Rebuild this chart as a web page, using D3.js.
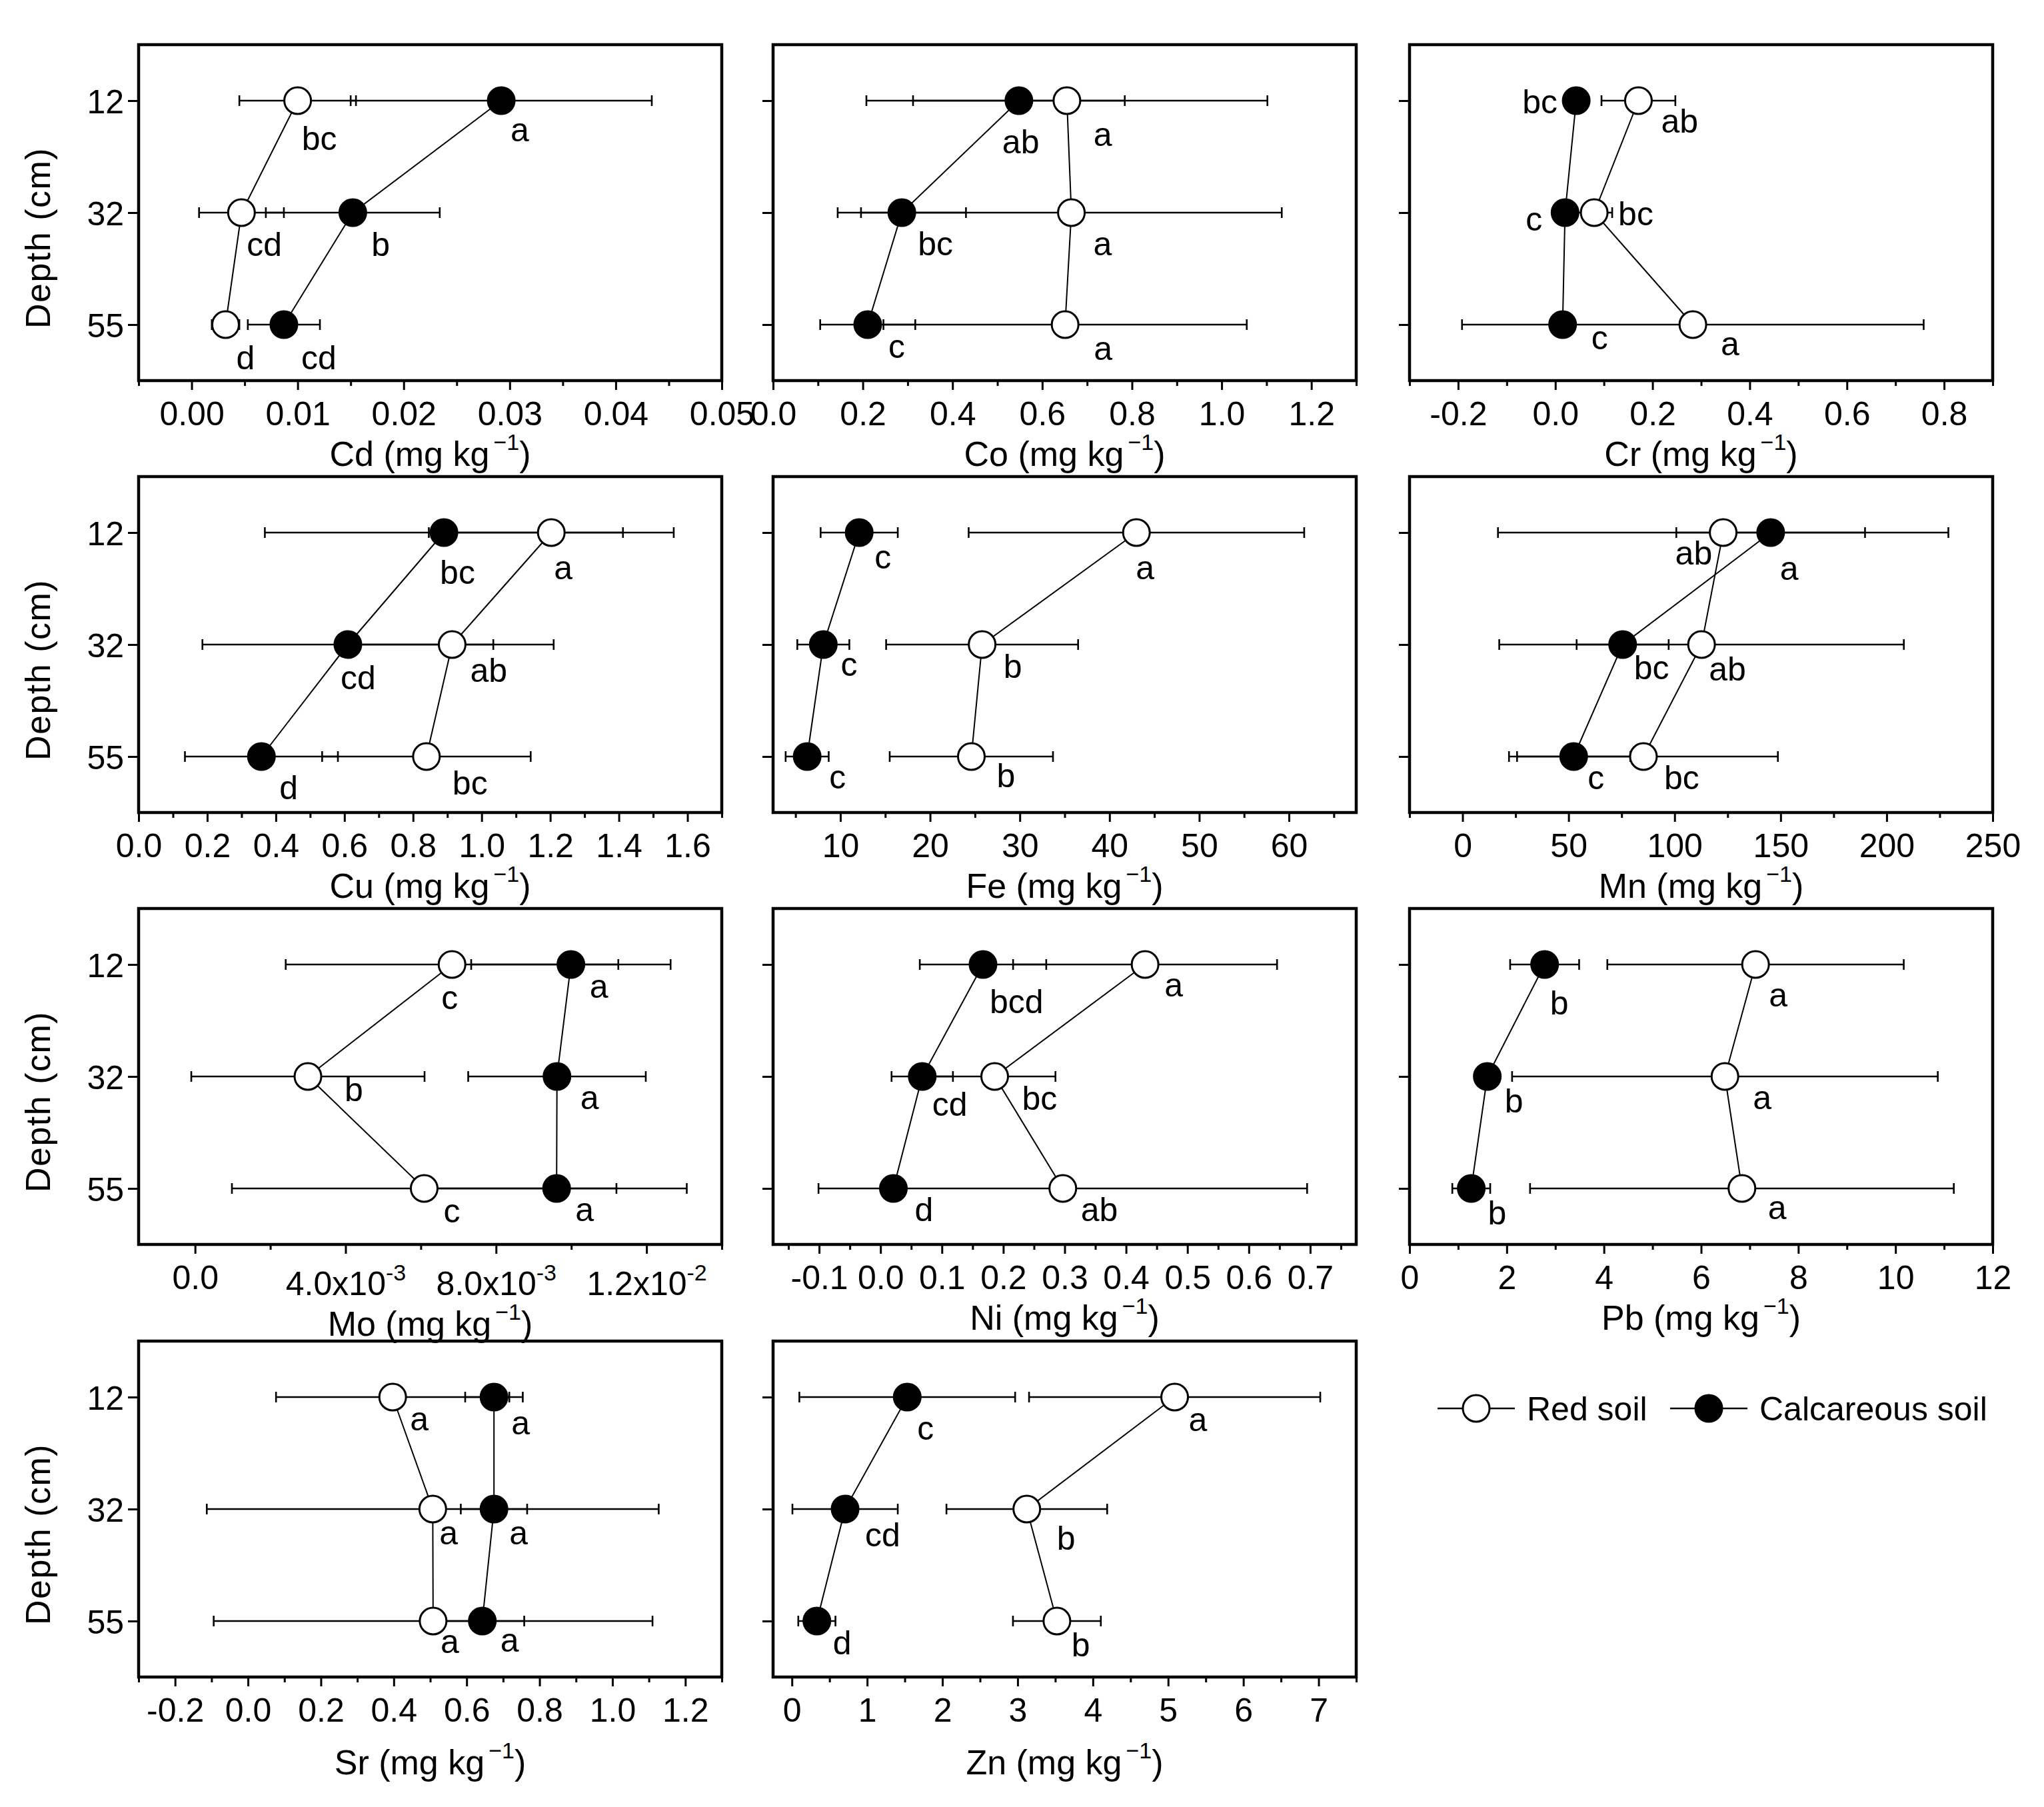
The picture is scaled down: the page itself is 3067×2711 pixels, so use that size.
<!DOCTYPE html>
<html><head><meta charset="utf-8">
<script src="https://cdn.jsdelivr.net/npm/d3@7"></script>
<style>
body{margin:0;background:#fff}
text{font-family:"Liberation Sans",Arial,sans-serif;fill:#000}
</style>
</head><body>
<svg id="c" width="3067" height="2711" xmlns="http://www.w3.org/2000/svg"></svg>
<script>
// ---------------- DATA ----------------
const depths = ["12", "32", "55"];
const elements = ["Cd", "Co", "Cr", "Cu", "Fe", "Mn", "Mo", "Ni", "Pb", "Sr", "Zn"];
const seriesNames = ["Red soil", "Calcareous soil"];

// means and SD for red soil (per element, depths 12/32/55)
const redMean = [
  [0.0100, 0.0047, 0.0032], [0.655, 0.665, 0.651], [0.171, 0.080, 0.283],
  [1.203, 0.914, 0.839], [43.0, 25.8, 24.6], [122.9, 112.7, 85.3],
  [0.00683, 0.00300, 0.00609], [0.431, 0.186, 0.297], [7.12, 6.49, 6.84],
  [0.397, 0.507, 0.508], [5.087, 3.122, 3.522]
];
const redSd = [
  [0.0055, 0.0040, 0.0013], [0.447, 0.469, 0.405], [0.076, 0.037, 0.475],
  [0.357, 0.296, 0.304], [18.7, 10.7, 9.1], [106.2, 95.4, 63.4],
  [0.00442, 0.00310, 0.00511], [0.215, 0.099, 0.398], [3.05, 4.38, 4.36],
  [0.320, 0.620, 0.602], [1.935, 1.068, 0.584]
];
// means and SD for calcareous soil
const calcMean = [
  [0.0292, 0.0152, 0.0087], [0.548, 0.287, 0.211], [0.043, 0.020, 0.015],
  [0.890, 0.610, 0.358], [12.1, 8.1, 6.3], [145.3, 75.5, 52.4],
  [0.00999, 0.00962, 0.00961], [0.167, 0.068, 0.021], [2.78, 1.60, 1.27],
  [0.675, 0.675, 0.643], [1.533, 0.707, 0.332]
];
const calcSd = [
  [0.0142, 0.0082, 0.0034], [0.236, 0.143, 0.106], [0.010, 0.010, 0.010],
  [0.522, 0.424, 0.223], [4.3, 2.9, 2.4], [44.5, 21.7, 26.7],
  [0.00265, 0.00236, 0.00346], [0.103, 0.050, 0.015], [0.71, 0.15, 0.39],
  [0.079, 0.091, 0.115], [1.434, 0.700, 0.247]
];
const redLetters = [
  ["bc", "cd", "d"], ["a", "a", "a"], ["ab", "bc", "a"], ["a", "ab", "bc"],
  ["a", "b", "b"], ["ab", "ab", "bc"], ["c", "b", "c"], ["a", "bc", "ab"],
  ["a", "a", "a"], ["a", "a", "a"], ["a", "b", "b"]
];
const calcLetters = [
  ["a", "b", "cd"], ["ab", "bc", "c"], ["bc", "c", "c"], ["bc", "cd", "d"],
  ["c", "c", "c"], ["a", "bc", "c"], ["a", "a", "a"], ["bcd", "cd", "d"],
  ["b", "b", "b"], ["a", "a", "a"], ["c", "cd", "d"]
];
// axis domains and tick labels
const xDomains = [
  [-0.005, 0.05], [0, 1.3], [-0.3, 0.9], [0, 1.7], [2.5, 67.5], [-25, 250],
  [-0.0015, 0.014], [-0.175, 0.775], [0, 12], [-0.3, 1.3], [-0.25, 7.5]
];
const xMajorTicks = [
  [0, 0.01, 0.02, 0.03, 0.04, 0.05],
  [0, 0.2, 0.4, 0.6, 0.8, 1.0, 1.2],
  [-0.2, 0, 0.2, 0.4, 0.6, 0.8],
  [0, 0.2, 0.4, 0.6, 0.8, 1.0, 1.2, 1.4, 1.6],
  [10, 20, 30, 40, 50, 60],
  [0, 50, 100, 150, 200, 250],
  [0, 0.004, 0.008, 0.012],
  [-0.1, 0, 0.1, 0.2, 0.3, 0.4, 0.5, 0.6, 0.7],
  [0, 2, 4, 6, 8, 10, 12],
  [-0.2, 0, 0.2, 0.4, 0.6, 0.8, 1.0, 1.2],
  [0, 1, 2, 3, 4, 5, 6, 7]
];
const xTickLabels = [
  ["0.00", "0.01", "0.02", "0.03", "0.04", "0.05"],
  ["0.0", "0.2", "0.4", "0.6", "0.8", "1.0", "1.2"],
  ["-0.2", "0.0", "0.2", "0.4", "0.6", "0.8"],
  ["0.0", "0.2", "0.4", "0.6", "0.8", "1.0", "1.2", "1.4", "1.6"],
  ["10", "20", "30", "40", "50", "60"],
  ["0", "50", "100", "150", "200", "250"],
  ["0.0", "4.0x10^-3", "8.0x10^-3", "1.2x10^-2"],
  ["-0.1", "0.0", "0.1", "0.2", "0.3", "0.4", "0.5", "0.6", "0.7"],
  ["0", "2", "4", "6", "8", "10", "12"],
  ["-0.2", "0.0", "0.2", "0.4", "0.6", "0.8", "1.0", "1.2"],
  ["0", "1", "2", "3", "4", "5", "6", "7"]
];

// ---------------- LAYOUT (label offsets in px: dx, dy, anchor) ----------------
const redLabelOff = [
  [[6,74],[8,65],[16,67]], [[40,68],[33,64],[43,53]], [[34,48],[36,19],[42,46]],
  [[4,70],[27,56],[39,57]], [[-1,70],[32,50],[38,46]], [[-72,48],[11,54],[31,49]],
  [[-16,67],[55,37],[29,51]], [[29,48],[41,50],[27,49]], [[20,63],[42,49],[39,46]],
  [[26,50],[10,53],[11,48]], [[21,51],[45,61],[22,53]]
];
const calcLabelOff = [
  [[14,61],[28,65],[26,67]], [[-25,79],[24,64],[31,50]], [[-28,19,"end"],[-34,27,"end"],[43,37]],
  [[-6,77],[-11,67],[27,64]], [[23,54],[26,47],[33,48]], [[14,71],[17,52],[21,49]],
  [[28,50],[35,49],[28,49]], [[10,73],[15,59],[32,49]], [[8,75],[26,54],[25,54]],
  [[26,56],[23,53],[27,46]], [[15,64],[30,56],[24,50]]
];

const colX = [208, 1160, 2115];
const rowY = [67, 715, 1363, 2012];
const PW = 875, PH = 504;
const FONT = '"Liberation Sans", Arial, sans-serif';
const R = 20;

const svg = d3.select("#c");
svg.append("rect").attr("width", 3067).attr("height", 2711).attr("fill", "#fff");

function setSupText(sel, str, supSize, shift) {
  const parts = str.split("^");
  sel.text(null);
  sel.append("tspan").text(parts[0]);
  if (parts.length > 1) {
    sel.append("tspan").attr("font-size", supSize).attr("dy", -shift).text(parts[1]);
  }
}

elements.forEach((el, i) => {
  const col = i % 3, row = Math.floor(i / 3);
  const g = svg.append("g").attr("transform", `translate(${colX[col]},${rowY[row]})`);
  const x = d3.scaleLinear().domain(xDomains[i]).range([0, PW]);
  const y = d3.scalePoint().domain(depths).range([0, PH]).padding(0.5);

  // minor ticks (half steps)
  const maj = xMajorTicks[i];
  const step = maj[1] - maj[0];
  const [a, b] = xDomains[i];
  const eps = step * 1e-6;
  const minor = [];
  for (let k = -30; k < 60; k++) {
    const v = maj[0] + (k + 0.5) * step;
    if (v >= a - eps && v <= b + eps) minor.push(v);
  }
  const gMinor = g.append("g").attr("transform", `translate(0,${PH})`)
    .call(d3.axisBottom(x).tickValues(minor).tickSize(8).tickSizeOuter(0).tickFormat(""));
  gMinor.select(".domain").remove();
  gMinor.selectAll("line").attr("stroke-width", 3);

  const gx = g.append("g").attr("transform", `translate(0,${PH})`)
    .call(d3.axisBottom(x).tickValues(maj).tickSize(14).tickSizeOuter(0)
      .tickFormat((d, j) => xTickLabels[i][j]));
  gx.select(".domain").remove();
  gx.attr("font-family", FONT).attr("font-size", 50);
  gx.selectAll("line").attr("stroke-width", 3);
  gx.selectAll("text").attr("dy", null).attr("y", (d, j) => xTickLabels[i][j].includes("^") ? 76 : 67)
    .each(function(d, j) { setSupText(d3.select(this), xTickLabels[i][j], 34, 22); });

  const gy = g.append("g")
    .call(d3.axisLeft(y).tickSize(16).tickSizeOuter(0).tickFormat(col === 0 ? (d => d) : () => ""));
  gy.select(".domain").remove();
  gy.attr("font-family", FONT).attr("font-size", 50);
  gy.selectAll("line").attr("stroke-width", 3);
  gy.selectAll("text").attr("x", -22).attr("dy", "0.36em");

  // frame
  g.append("rect").attr("width", PW).attr("height", PH)
    .attr("fill", "none").attr("stroke", "#000").attr("stroke-width", 4.5);

  // x title
  const titleY = row === 3 ? 146 : (el === "Mo" ? 137 : 128);
  const t = g.append("text").attr("x", PW / 2).attr("y", PH + titleY)
    .attr("text-anchor", "middle").attr("font-size", 52);
  t.append("tspan").text(`${el} (mg kg`);
  t.append("tspan").attr("font-size", 34).attr("dy", -24).attr("dx", 6).text("\u22121");
  t.append("tspan").attr("dy", 24).text(")");

  // y title
  if (col === 0) {
    svg.append("text")
      .attr("transform", `translate(75,${rowY[row] + PH / 2 + 38}) rotate(-90)`)
      .attr("text-anchor", "middle").attr("font-size", 52).attr("letter-spacing", 1.5)
      .text("Depth (cm)");
  }

  const series = [
    { mean: redMean[i], sd: redSd[i], letters: redLetters[i], off: redLabelOff[i], fill: "#fff" },
    { mean: calcMean[i], sd: calcSd[i], letters: calcLetters[i], off: calcLabelOff[i], fill: "#000" }
  ];

  // error bars
  series.forEach(s => {
    depths.forEach((d, k) => {
      const lo = x(s.mean[k] - s.sd[k]), hi = x(s.mean[k] + s.sd[k]), yy = y(d);
      g.append("line").attr("x1", lo).attr("x2", hi).attr("y1", yy).attr("y2", yy)
        .attr("stroke", "#000").attr("stroke-width", 2.6);
      [lo, hi].forEach(xx => g.append("line").attr("x1", xx).attr("x2", xx)
        .attr("y1", yy - 8).attr("y2", yy + 8).attr("stroke", "#000").attr("stroke-width", 2.6));
    });
  });
  // connecting lines
  series.forEach(s => {
    g.append("path")
      .attr("d", d3.line().x((d, k) => x(s.mean[k])).y(d => y(d))(depths))
      .attr("fill", "none").attr("stroke", "#000").attr("stroke-width", 2);
  });
  // markers and letters
  series.forEach(s => {
    depths.forEach((d, k) => {
      g.append("circle").attr("cx", x(s.mean[k])).attr("cy", y(d)).attr("r", R)
        .attr("fill", s.fill).attr("stroke", "#000").attr("stroke-width", 3);
    });
  });
  series.forEach(s => {
    depths.forEach((d, k) => {
      const o = s.off[k];
      g.append("text").attr("x", x(s.mean[k]) + o[0]).attr("y", y(d) + o[1])
        .attr("text-anchor", o[2] === "end" ? "end" : "start")
        .attr("font-size", 50).text(s.letters[k]);
    });
  });
});

// legend
const lg = svg.append("g").attr("transform", "translate(2157,2113)");
const legendItems = [
  { name: seriesNames[0], fill: "#fff", x0: 0 },
  { name: seriesNames[1], fill: "#000", x0: 349 }
];
legendItems.forEach(it => {
  lg.append("line").attr("x1", it.x0).attr("x2", it.x0 + 116).attr("y1", 0).attr("y2", 0)
    .attr("stroke", "#000").attr("stroke-width", 2.6);
  lg.append("circle").attr("cx", it.x0 + 58).attr("cy", 0).attr("r", R)
    .attr("fill", it.fill).attr("stroke", "#000").attr("stroke-width", 3);
  lg.append("text").attr("x", it.x0 + 134).attr("y", 18).attr("font-size", 50).text(it.name);
});
</script>
</body></html>
